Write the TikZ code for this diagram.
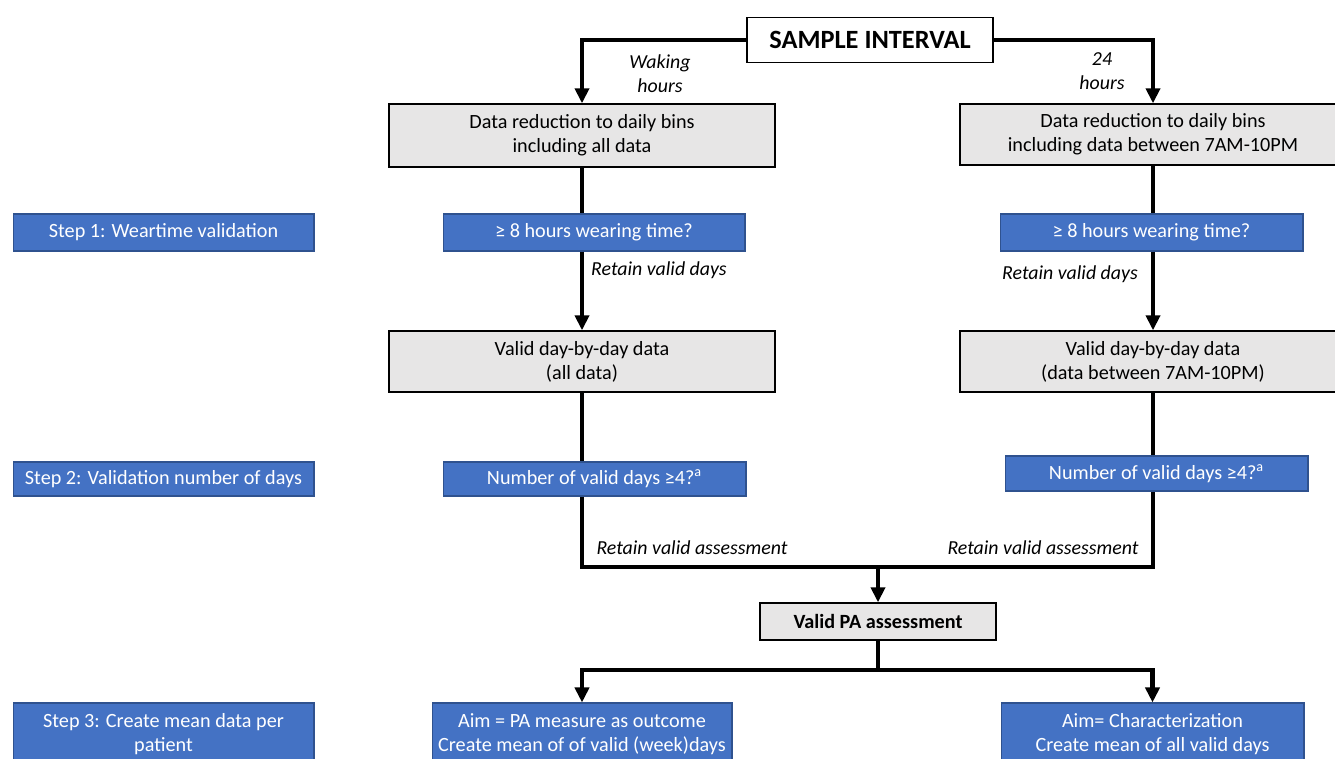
\documentclass[tikz,border=0pt]{standalone}
\usepackage{fontspec}
\setmainfont{Carlito}
\usetikzlibrary{arrows.meta}
\definecolor{stepblue}{HTML}{4472C4}
\definecolor{stepedge}{HTML}{2F528F}
\definecolor{boxgray}{HTML}{E7E6E6}
\tikzset{
  txt/.style={font=\fontsize{11.5}{13.6}\selectfont},
  graybox/.style={txt, draw=black, line width=0.8pt, fill=boxgray, align=center, inner sep=0pt},
  bluebox/.style={txt, draw=stepedge, line width=0.6pt, fill=stepblue, text=white, align=center, inner sep=0pt},
  note/.style={font=\fontsize{11.3}{13.6}\selectfont\itshape, align=center},
  flow/.style={line width=2.3pt},
  flowarrow/.style={flow, -{Triangle[length=0.3cm, width=0.28cm]}}
}
\begin{document}
\begin{tikzpicture}[x=0.02cm, y=-0.02cm]
  \useasboundingbox (0,0) rectangle (1335,758);
  \clip (0,0) rectangle (1335,758);

  % Sample interval
  \node[draw=black, line width=0.8pt, fill=white, minimum width=4.92cm, minimum height=0.9cm,
        font=\fontsize{15}{18}\selectfont\bfseries] (sample) at (870,40) {SAMPLE INTERVAL};
  \node[note] (waking) at (660,74) {Waking\\hours};
  \node[note] (day24) at (1102,71) {24\\hours};

  % Left column (waking hours)
  \node[graybox, minimum width=7.72cm, minimum height=1.26cm] (bins1) at (582,135.5)
    {Data reduction to daily bins\\including all data};
  \node[bluebox, minimum width=6.04cm, minimum height=0.74cm] (wear1) at (594,232.5)
    {≥ 8 hours wearing time?};
  \node[graybox, minimum width=7.72cm, minimum height=1.22cm] (valid1) at (582,361.5)
    {Valid day-by-day data\\(all data)};
  \node[bluebox, minimum width=6.06cm, minimum height=0.68cm] (num1) at (594.5,479)
    {Number of valid days ≥4?\textsuperscript{a}};
  \node[note] (keep1) at (659,270) {Retain valid days};
  \node[note] (assess1) at (692,548) {Retain valid assessment};

  % Right column (24 hours)
  \node[graybox, minimum width=7.72cm, minimum height=1.22cm] (bins2) at (1153,134.5)
    {Data reduction to daily bins\\including data between 7AM-10PM};
  \node[bluebox, minimum width=6.06cm, minimum height=0.74cm] (wear2) at (1151.5,232.5)
    {≥ 8 hours wearing time?};
  \node[graybox, minimum width=7.72cm, minimum height=1.22cm] (valid2) at (1153,361.5)
    {Valid day-by-day data\\(data between 7AM-10PM)};
  \node[bluebox, minimum width=6.06cm, minimum height=0.7cm] (num2) at (1156.5,473.5)
    {Number of valid days ≥4?\textsuperscript{a}};
  \node[note] (keep2) at (1070,274) {Retain valid days};
  \node[note] (assess2) at (1043,548) {Retain valid assessment};

  % Steps
  \node[bluebox, minimum width=6.02cm, minimum height=0.74cm] (step1) at (163.5,232.5)
    {Step 1: Weartime validation};
  \node[bluebox, minimum width=6.02cm, minimum height=0.68cm] (step2) at (163.5,479)
    {Step 2: Validation number of days};
  \node[bluebox, minimum width=6.02cm, minimum height=1.24cm] (step3) at (163.5,734)
    {Step 3: Create mean data per\\patient};

  % Result
  \node[graybox, minimum width=4.72cm, minimum height=0.74cm, font=\fontsize{11.5}{13.6}\selectfont\bfseries]
    (pa) at (878,621.5) {Valid PA assessment};
  \node[bluebox, minimum width=6cm, minimum height=1.24cm] (aim1) at (582,734)
    {Aim = PA measure as outcome\\Create mean of of valid (week)days};
  \node[bluebox, minimum width=6.06cm, minimum height=1.24cm] (aim2) at (1152.5,734)
    {Aim= Characterization\\Create mean of all valid days};

  \coordinate (join) at (878,567);
  \coordinate (split) at (878,670);

  % Connectors
  \draw[flowarrow] (sample.west) -| (bins1.north);
  \draw[flowarrow] (sample.east) -| (bins2.north);
  \draw[flow] (bins1.south) -- (bins1.south |- wear1.north);
  \draw[flowarrow] (bins1.south |- wear1.south) -- (valid1.north);
  \draw[flow] (valid1.south) -- (valid1.south |- num1.north);
  \draw[flow] (bins2.south) -- (bins2.south |- wear2.north);
  \draw[flowarrow] (bins2.south |- wear2.south) -- (valid2.north);
  \draw[flow] (valid2.south) -- (valid2.south |- num2.north);
  \draw[flow] (valid1.south |- num1.south) |- (join) -| (valid2.south |- num2.south);
  \draw[flowarrow] (join) -- (pa.north);
  \draw[flow] (pa.south) -- (split);
  \draw[flowarrow] (split) -| (aim1.north);
  \draw[flowarrow] (split) -| (aim2.north);
\end{tikzpicture}
\end{document}
